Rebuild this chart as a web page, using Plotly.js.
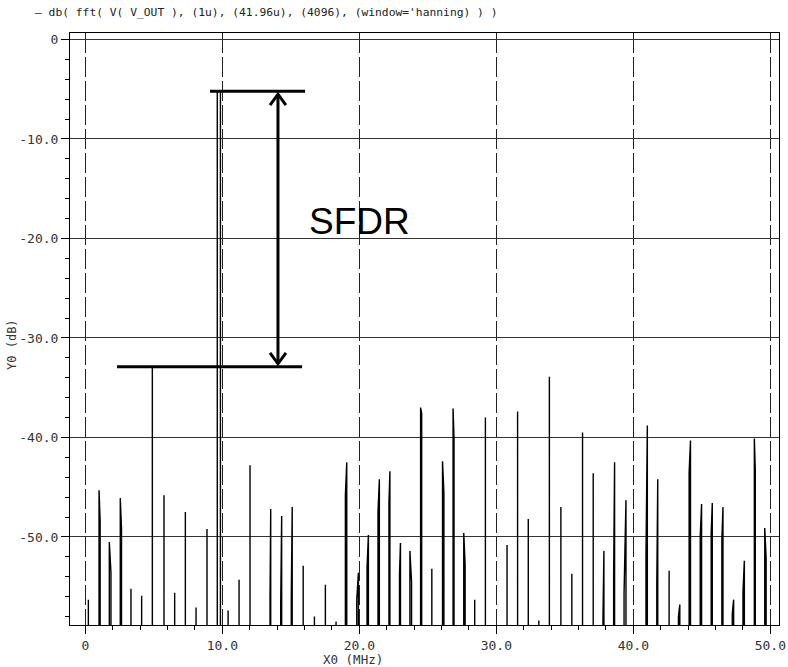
<!DOCTYPE html>
<html>
<head>
<meta charset="utf-8">
<script src="https://cdn.plot.ly/plotly-3.0.1.min.js"></script>
<style>html,body{margin:0;padding:0;background:#fff;}#chart{width:788px;height:667px;}</style>
</head>
<body>
<div id="chart"></div>
<script>
// ---- data (frequency in MHz, level in dB) ----
const spikeFreq = [0.22, 1.00, 1.75, 2.55, 3.33, 4.11, 4.89, 5.74, 6.52, 7.30, 8.08, 8.88, 9.63,
  10.42, 11.22, 12.02, 13.53, 14.33, 15.10, 15.90, 16.72, 17.52, 18.30, 19.08, 19.93, 20.66,
  21.46, 22.23, 23.00, 23.69, 24.47, 25.29, 26.07, 26.84, 27.62, 28.42, 29.20, 30.78, 31.55,
  32.33, 33.10, 33.87, 34.71, 35.51, 36.29, 37.07, 37.85, 38.63, 39.46, 41.02, 41.78, 42.61,
  43.39, 44.17, 44.98, 45.76, 46.54, 47.32, 48.10, 48.83, 49.59];
const spikeDb = [-56.3, -45.3, -50.5, -46.1, -55.2, -55.9, -32.9, -45.8, -55.6, -47.5, -57.1, -49.2, -5.2,
  -57.4, -54.3, -42.8, -47.2, -47.9, -47.0, -52.9, -58.0, -54.8, -58.5, -42.5, -53.6, -49.8,
  -44.2, -43.4, -50.6, -51.4, -37.0, -53.2, -42.4, -37.1, -49.6, -56.3, -38.0, -50.8, -37.4,
  -48.2, -58.4, -33.9, -47.0, -53.7, -39.5, -43.6, -51.4, -42.5, -46.3, -38.8, -44.2, -53.4,
  -56.8, -40.3, -46.7, -46.6, -47.0, -56.3, -52.4, -40.1, -49.1];
// neighbouring FFT bin of each spike (null = not visible)
const sideFreq = [null, 1.08, 1.87, 2.64, null, null, null, null, null, null, null, null, 9.86,
  null, null, null, 13.48, 14.26, 15.03, null, null, null, null, 18.98, 19.81, 20.56,
  21.36, 22.16, 22.93, 23.81, 24.55, null, 26.17, 26.91, 27.72, null, null, null, null,
  null, null, null, null, null, null, null, 37.78, 38.56, 39.32, 40.92, 41.71, null,
  43.29, 44.07, 44.88, 45.68, 46.46, 47.22, 48.00, 48.90, 49.69];
const sideDb = [null, -48.4, -53.6, -49.2, null, null, null, null, null, null, null, null, -5.2,
  null, null, null, -56.1, -56.7, -56.2, null, null, null, null, -45.8, -56.3, -53.1,
  -47.5, -46.6, -53.7, -54.5, -37.6, null, -45.5, -40.1, -52.8, null, null, null, null,
  null, null, null, null, null, null, null, -58.4, -53.8, -55.7, -51.9, -54.8, null,
  -58.0, -43.5, -49.9, -49.6, -50.2, -57.7, -55.5, -43.3, -52.1];
const noiseFloor = -80;   // spectrum floor, below the visible range

const xTickVals = [0, 10, 20, 30, 40, 50];
const xTickText = ['0', '10.0', '20.0', '30.0', '40.0', '50.0'];
const yTickVals = [0, -10, -20, -30, -40, -50];
const yTickText = ['0', '-10.0', '-20.0', '-30.0', '-40.0', '-50.0'];

const traceName = "db( fft( V( V_OUT ), (1u), (41.96u), (4096), (window='hanning) ) )";

// ---- build the spectrum polyline from the spikes ----
const xs = [], ys = [];
spikeFreq.forEach((f, i) => {
  xs.push(f, f); ys.push(noiseFloor, spikeDb[i]);
  if (sideFreq[i] !== null) {
    xs.push(sideFreq[i], sideFreq[i]); ys.push(sideDb[i], noiseFloor);
  } else {
    xs.push(f); ys.push(noiseFloor);
  }
});

const fundDb = Math.max(...spikeDb);
const spurDb = Math.max(...spikeDb.filter(v => v !== fundDb));

// annotation geometry (MHz)
const topBar = [9.10, 16.04];
const lowBar = [2.31, 15.82];
const arrowX = 14.06;
const headW = 0.58, headH = 1.1;

const mono = 'DejaVu Sans Mono, monospace';

const trace = {
  x: xs, y: ys, type: 'scatter', mode: 'lines', name: traceName,
  line: {color: '#000', width: 1.4, simplify: false},
  hoverinfo: 'skip', showlegend: false
};

const layout = {
  width: 788, height: 667,
  margin: {l: 70, r: 9, t: 33, b: 42, pad: 0},
  paper_bgcolor: '#fff', plot_bgcolor: '#fff',
  showlegend: false,
  xaxis: {
    range: [-1.12, 50.63], tickmode: 'array', tickvals: xTickVals, ticktext: xTickText,
    ticks: 'outside', ticklen: 8, tickwidth: 1, tickcolor: '#000',
    showline: true, linecolor: '#000', linewidth: 1, mirror: true,
    showgrid: true, gridcolor: '#222', gridwidth: 1, griddash: '20px,4px', zeroline: false,
    tickfont: {family: mono, size: 13, color: '#333'},
    minor: {dtick: 2, tick0: 0, ticks: 'outside', ticklen: 4, tickcolor: '#000', showgrid: false}
  },
  yaxis: {
    range: [-58.85, 0.65], tickmode: 'array', tickvals: yTickVals, ticktext: yTickText,
    ticks: 'outside', ticklen: 8, tickwidth: 1, tickcolor: '#000',
    showline: true, linecolor: '#000', linewidth: 1, mirror: true,
    showgrid: true, gridcolor: '#333', gridwidth: 1, zeroline: false,
    tickfont: {family: mono, size: 13, color: '#333'},
    minor: {dtick: 2, tick0: 0, ticks: 'outside', ticklen: 4, tickcolor: '#000', showgrid: false}
  },
  shapes: [
    {type: 'line', xref: 'x', yref: 'y', x0: topBar[0], x1: topBar[1], y0: fundDb, y1: fundDb,
     line: {color: '#000', width: 3}},
    {type: 'line', xref: 'x', yref: 'y', x0: lowBar[0], x1: lowBar[1], y0: spurDb, y1: spurDb,
     line: {color: '#000', width: 3}},
    {type: 'line', xref: 'x', yref: 'y', x0: arrowX, x1: arrowX, y0: fundDb - 0.3, y1: spurDb + 0.3,
     line: {color: '#000', width: 3}},
    {type: 'path', xref: 'x', yref: 'y',
     path: `M ${arrowX - headW},${fundDb - 0.3 - headH} L ${arrowX},${fundDb - 0.3} L ${arrowX + headW},${fundDb - 0.3 - headH}`,
     line: {color: '#000', width: 3}},
    {type: 'path', xref: 'x', yref: 'y',
     path: `M ${arrowX - headW},${spurDb + 0.3 + headH} L ${arrowX},${spurDb + 0.3} L ${arrowX + headW},${spurDb + 0.3 + headH}`,
     line: {color: '#000', width: 3}}
  ],
  annotations: [
    {text: '— ' + traceName, xref: 'paper', yref: 'paper', x: -0.052, y: 1.035,
     xanchor: 'left', yanchor: 'middle', showarrow: false,
     font: {family: mono, size: 11.3, color: '#222'}},
    {text: 'SFDR', xref: 'x', yref: 'y', x: 19.98, y: -18.3, showarrow: false,
     xanchor: 'center', yanchor: 'middle',
     font: {family: 'Liberation Sans, Arial, sans-serif', size: 37, color: '#000'}},
    {text: 'Y0 (dB)', xref: 'paper', yref: 'paper', x: -0.0818, y: 0.473, textangle: -90,
     xanchor: 'center', yanchor: 'middle', showarrow: false,
     font: {family: mono, size: 12, color: '#333'}},
    {text: 'X0 (MHz)', xref: 'paper', yref: 'paper', x: 0.399, y: -0.059,
     xanchor: 'center', yanchor: 'middle', showarrow: false,
     font: {family: mono, size: 12.5, color: '#333'}}
  ]
};

Plotly.newPlot('chart', [trace], layout, {staticPlot: true, displayModeBar: false});
</script>
</body>
</html>
